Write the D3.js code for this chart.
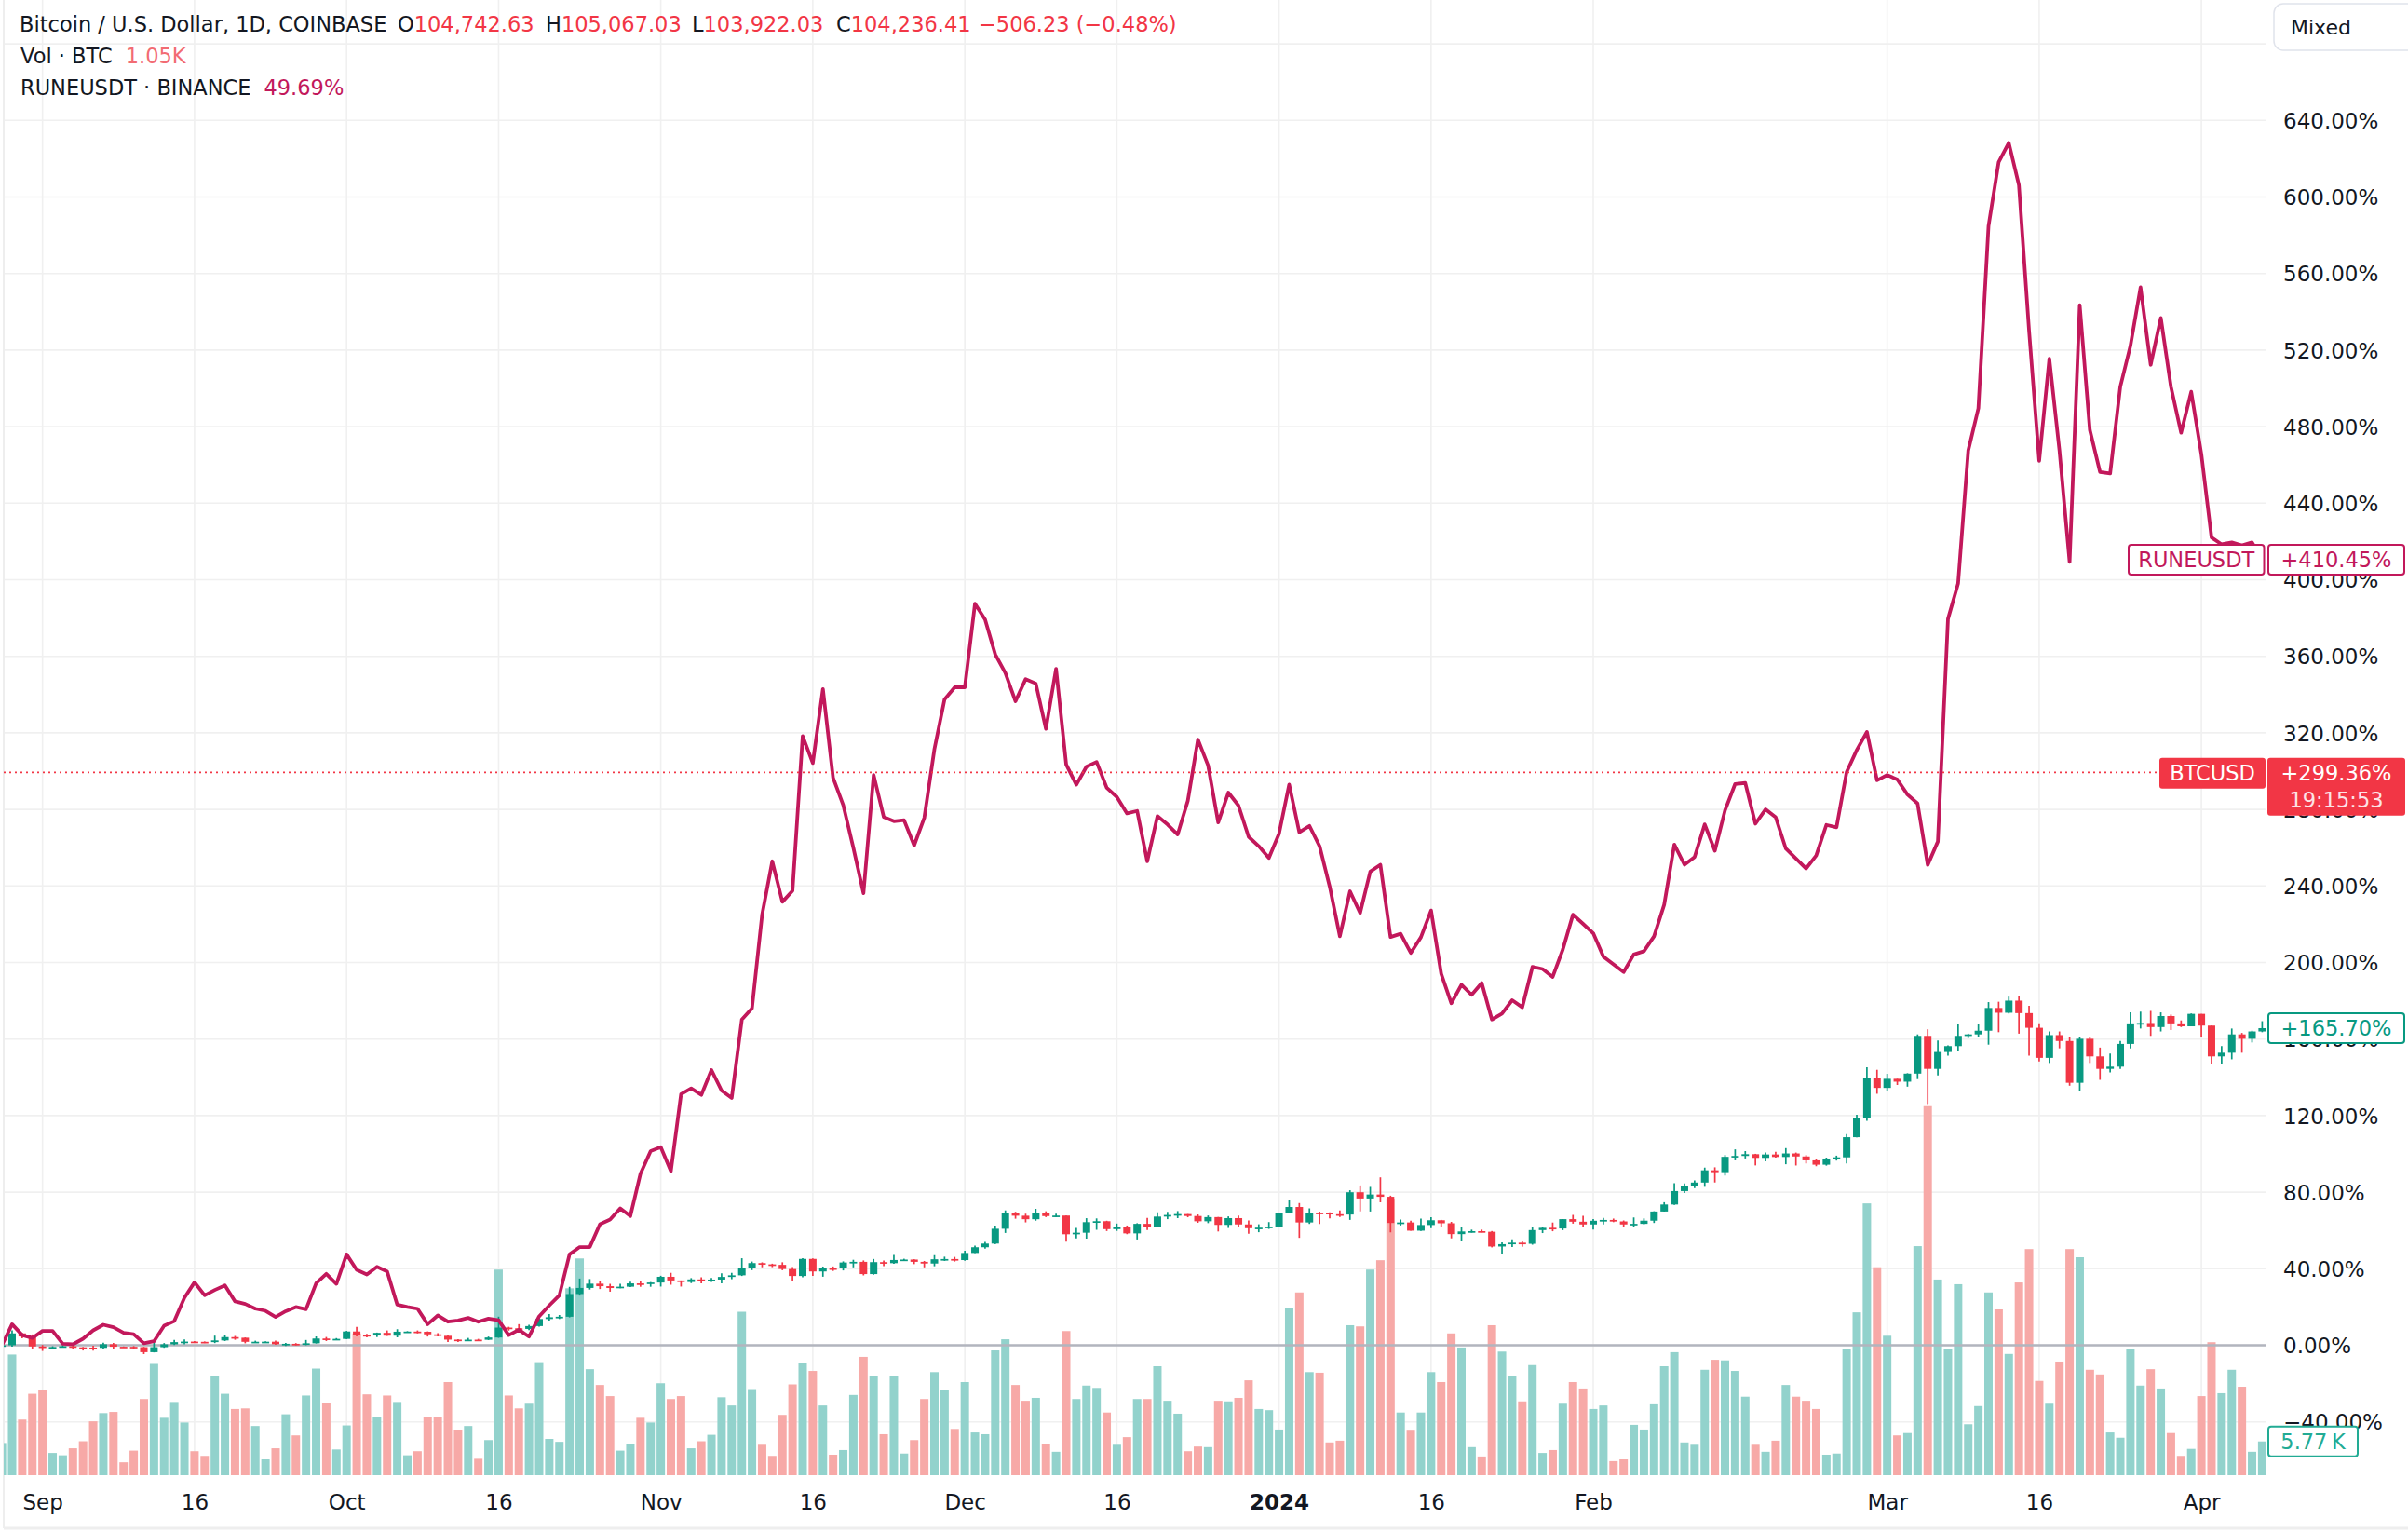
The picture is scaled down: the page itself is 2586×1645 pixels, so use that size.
<!DOCTYPE html>
<html><head><meta charset="utf-8">
<script src="https://cdn.jsdelivr.net/npm/d3@7"></script>
<style>
html,body{margin:0;padding:0;background:#fff;}
svg{display:block;font-family:"DejaVu Sans",sans-serif;}
</style></head><body>
<svg id="chart" width="2586" height="1645"></svg>
<script>
// ---------- DATA ----------
const firstDay = "2023-08-28";
const lastDay = "2024-04-07";

// BTCUSD daily (Coinbase), USD
const btcOpen = [
26090,26101,27720,27300,25940,25800,25870,25970,25820,25790,
25750,26240,25900,25890,25840,25160,25840,26230,26530,26600,
26570,26530,26760,27210,27130,26570,26580,26585,26250,26300,
26220,26370,27020,26910,26970,27980,27500,27430,27790,27410,
27950,27970,27940,27590,27390,26870,26760,26860,26850,27160,
28510,28420,28330,28720,29680,29920,29990,33090,33920,34500,
34160,33910,34090,34540,34500,34660,35440,34940,34730,35080,
35050,35060,35420,35640,36700,37310,37140,37070,36500,35550,
37880,36170,36600,36590,37390,37480,35810,37440,37300,37730,
37790,37480,37250,37830,37860,37720,38690,39470,39970,41990,
44080,43770,43290,44170,43720,43790,41240,41450,42890,43020,
41940,42260,41360,42660,42260,43650,43870,43990,43730,43010,
43580,42520,43440,42580,42070,42140,42280,44180,44960,42850,
44180,44160,43970,43930,46970,46120,46660,46350,42780,42850,
41730,42500,43150,42740,41260,41620,41660,41580,39570,39890,
40090,39940,41810,42120,42030,43300,42950,42580,43080,43190,
42990,42580,42660,43090,44340,45300,47130,47770,48290,49960,
49710,51800,51920,52160,51660,52120,51780,52260,51850,51320,
50730,51570,51730,54480,57080,62500,61200,62440,62050,63150,
68300,63800,66100,66900,68300,68500,69000,72100,71450,73100,
71400,69400,65300,68400,67600,61900,67900,65500,63800,64100,
67200,70000,70050,69500,71000,70000,69600,71300,69700,65500,
66000,68500,67900,68900];
const btcHigh = [
26230,28140,27760,27580,26140,25970,26120,26090,25870,26040,
26450,26420,25940,25990,25880,26540,26400,26820,26890,26670,
26620,27410,27490,27370,27160,26720,26640,26740,26430,26390,
26820,27310,27230,27080,28060,28600,27670,27830,28120,28290,
28020,28120,27990,27740,27480,26940,27100,26970,27290,30000,
28620,28980,28910,30210,30350,30230,34070,35200,35130,34830,
34480,34480,34770,34850,34720,35580,35980,34940,35260,35380,
35290,35900,35980,37970,37520,37410,37230,37420,36770,37980,
37940,36840,36850,37540,37760,37670,37870,37660,38430,37900,
37830,37600,38390,38180,38150,38990,39700,40200,42420,44490,
44300,44040,44710,44370,44040,43800,42090,43430,43400,43080,
42700,42430,42750,43480,44240,44290,44400,43990,43950,43800,
43600,43680,43800,43130,42600,42900,44190,45900,45500,44770,
44340,44240,44500,47240,47900,47700,49000,46500,43250,43080,
43390,43560,43200,42930,42200,41870,41870,41680,40140,40540,
40290,42200,42240,42840,43310,43880,43750,43300,43480,43380,
43120,43530,43400,44370,45610,48200,48170,48590,50330,50370,
52040,52820,52580,52210,52380,52480,52990,52380,52030,51550,
51690,51960,54910,57550,64000,63670,63120,62440,63200,68500,
69200,67650,67000,69900,68600,69980,72900,72950,73650,73780,
72400,70000,68900,68900,68100,68100,68200,66700,65900,67600,
71500,71600,71700,71500,71200,70400,71350,71300,69700,66900,
69300,68700,69000,70300];
const btcLow = [
25880,25910,27050,25660,25330,25720,25780,25600,25390,25360,
25620,25650,25810,25560,24900,25130,25760,26130,26230,26470,
26400,26400,26680,26850,26370,26480,26500,26150,25990,26090,
26110,26340,26680,26890,26940,27310,27170,27220,27370,27180,
27860,27720,27290,27300,26560,26540,26700,26810,26810,27120,
28100,28150,28180,28640,29480,29680,29900,32880,33700,33770,
33410,33880,34040,34080,34080,34110,34360,34110,34580,34540,
34740,34540,35110,35550,36350,36740,36760,36340,34940,35370,
35560,35450,36240,36310,36730,35630,35730,36900,37220,37630,
37170,36730,36880,37610,37520,37630,38660,39280,39900,41420,
43360,42860,43090,43580,43590,40220,40680,40640,41850,41680,
41700,41250,40530,41820,42210,43300,43440,43560,42800,42760,
41620,42100,42300,41300,41520,41970,42200,44180,40750,42650,
42630,43420,43610,43200,44360,44340,45600,41500,42440,41720,
41690,42060,42200,40680,40280,41460,41500,39450,38520,39490,
39540,39820,41400,41650,41800,42690,42300,41880,42580,42890,
42260,42260,42580,42780,44330,45240,46870,47550,47710,48300,
49250,51320,51580,50630,51180,51700,50790,50620,50900,50520,
50600,51290,50900,54450,56700,60400,60800,61600,61370,62400,
59000,62900,65600,66200,68000,68200,67100,68800,71350,68600,
65600,64800,64600,66600,61500,60800,64600,62300,63300,63800,
66600,69300,68300,68900,69100,69500,69600,68100,64500,64500,
65100,66000,67400,68800];
const btcClose = [
26101,27720,27300,25940,25800,25870,25970,25820,25790,25750,
26240,25900,25890,25840,25160,25840,26230,26530,26600,26570,
26530,26760,27210,27130,26570,26580,26585,26250,26300,26220,
26370,27020,26910,26970,27980,27500,27430,27790,27410,27950,
27970,27940,27590,27390,26870,26760,26860,26850,27160,28510,
28420,28330,28720,29680,29920,29990,33090,33920,34500,34160,
33910,34090,34540,34500,34660,35440,34940,34730,35080,35050,
35060,35420,35640,36700,37310,37140,37070,36500,35550,37880,
36170,36600,36590,37390,37480,35810,37440,37300,37730,37790,
37480,37250,37830,37860,37720,38690,39470,39970,41990,44080,
43770,43290,44170,43720,43790,41240,41450,42890,43020,41940,
42260,41360,42660,42260,43650,43870,43990,43730,43010,43580,
42520,43440,42580,42070,42140,42280,44180,44960,42850,44180,
44160,43970,43930,46970,46120,46660,46350,42780,42850,41730,
42500,43150,42740,41260,41620,41660,41580,39570,39890,40090,
39940,41810,42120,42030,43300,42950,42580,43080,43190,42990,
42580,42660,43090,44340,45300,47130,47770,48290,49960,49710,
51800,51920,52160,51660,52120,51780,52260,51850,51320,50730,
51570,51730,54480,57080,62500,61200,62440,62050,63150,68300,
63800,66100,66900,68300,68500,69000,72100,71450,73100,71400,
69400,65300,68400,67600,61900,67900,65500,63800,64100,67200,
70000,70050,69500,71000,70000,69600,71300,69700,65500,66000,
68500,67900,68900,69350];
// Volume (thousand BTC)
const btcVolumeK = [
5.5,20.6,9.5,13.9,14.5,3.8,3.4,4.6,5.8,9.2,
10.6,10.8,2.2,4.2,13.0,19.0,9.8,12.5,9.0,4.1,
3.3,17.0,13.9,11.3,11.4,8.4,2.7,4.6,10.4,6.8,
13.6,18.2,12.4,4.4,8.5,24.2,13.8,10.0,13.6,12.5,
3.4,4.1,10.0,10.0,15.9,7.7,8.4,2.8,6.0,35.1,
13.6,11.4,12.2,19.3,6.2,5.7,31.9,37.0,18.1,15.4,
13.5,4.2,5.4,9.8,9.0,15.7,13.0,13.5,4.6,5.8,
6.9,13.3,11.9,27.9,14.7,5.2,3.3,10.3,15.5,19.2,
17.8,11.9,3.5,4.3,13.7,20.2,17.0,7.0,17.0,3.7,
6.0,13.0,17.6,14.6,7.9,15.9,7.3,7.0,21.3,23.2,
15.4,12.7,13.2,5.4,4.0,24.6,13.0,15.3,14.9,10.7,
5.2,6.5,13.0,13.0,18.6,12.7,10.5,4.1,4.9,4.8,
12.7,12.6,13.2,16.2,11.3,11.1,7.8,28.5,31.2,17.6,
17.5,5.6,5.9,25.6,25.4,35.1,36.7,47.2,10.7,7.6,
10.7,17.6,15.9,24.2,21.8,4.8,3.2,25.6,21.1,16.9,
12.6,18.8,3.8,4.3,12.2,15.9,14.8,11.3,11.9,2.4,
2.7,8.6,7.8,12.1,18.6,21.0,5.6,5.2,18.0,19.7,
19.6,17.8,13.4,5.2,4.0,5.9,15.4,13.4,12.7,11.3,
3.5,3.7,21.6,27.8,46.4,35.5,23.8,6.8,7.2,39.1,
63.0,33.4,21.5,32.6,8.7,11.8,31.2,28.3,20.7,32.9,
38.6,16.1,12.2,19.4,38.6,37.2,18.0,17.2,7.3,6.4,
21.5,15.3,18.1,14.8,7.2,3.3,4.5,13.5,22.7,14.0,
18.0,15.1,4.0,5.77];
// RUNEUSDT change from first bar, %
const runeChangePct = [
0,11,5.3,3.8,7.5,7.5,0.8,0.5,3.4,7.8,
10.7,9.4,6.5,5.8,1.0,2.1,10.2,12.6,24.8,32.9,
26.1,28.9,31.3,22.9,21.6,19.1,18.0,14.8,17.8,20.0,
18.8,32.4,37.3,32.1,47.5,39.4,37.0,41.0,38.6,21.2,
20.0,19.1,11.0,15.6,12.3,13.0,14.3,12.3,13.9,13.1,
5.3,8.1,4.5,15.1,20.8,26.1,47.5,51.3,51.3,63.3,
65.7,71.5,67.5,89.7,101.5,103.5,91,131.2,134.2,130.8,
143.8,133.1,129.2,170.2,176.0,225.0,252.9,231.7,237.5,318.3,
304.2,342.9,296.5,282.3,260.0,236.2,298.0,276.0,273.8,274.4,
261.2,275.6,311.5,337.5,343.8,343.8,387.5,379.2,361.0,351.3,
336.5,348.1,345.8,322.1,353.5,303.5,292.9,302.3,304.8,291.3,
286.5,277.9,279.2,252.9,276.5,272.1,266.9,284.5,316.5,303.0,
273.2,288.8,282.0,265.7,260.8,254.6,267.3,293.0,268.1,271.4,
260.8,239.7,213.7,237.2,225.9,247.5,251.1,213.3,215.0,205.0,
213.2,227.2,194.1,178.7,188.4,183.1,189.3,170.2,173.3,180.3,
176.6,197.7,196.6,192.5,206.8,225.0,220.2,215.3,203.1,199.0,
195.0,204.2,205.9,213.7,230.2,261.6,251.1,255.1,272.2,258.4,
279.5,293.3,293.8,272.5,280.0,275.9,259.5,254.3,249.1,255.9,
271.9,270.6,299.5,311.0,320.5,295.2,298.0,295.6,287.8,283.1,
251.0,263.2,379.5,398.1,467.5,489.6,584.8,618.2,628.3,606.2,
530.2,462.1,515.5,467.5,409.3,543.5,478.2,456.3,455.5,500.8,
522.2,552.8,512.3,536.8,500.8,476.8,498.2,465.6,422.1,418.5,
419.5,418.0,419.5,410.45];

const priceTicks = [-40,0,40,80,120,160,200,240,280,320,360,400,440,480,520,560,600,640];
const gridLevels = [-40,0,40,80,120,160,200,240,280,320,360,400,440,480,520,560,600,640,680];
const timeTickDates = ["2023-09-01","2023-09-16","2023-10-01","2023-10-16","2023-11-01","2023-11-16","2023-12-01","2023-12-16","2024-01-01","2024-01-16","2024-02-01","2024-03-01","2024-03-16","2024-04-01"];
const timeTickLabels = ["Sep","16","Oct","16","Nov","16","Dec","16","2024","16","Feb","Mar","16","Apr"];

const legendTitle = "Bitcoin / U.S. Dollar, 1D, COINBASE";
const legendOHLC = [["O","104,742.63"],["H","105,067.03"],["L","103,922.03"],["C","104,236.41"]];
const legendChange = "\u2212506.23 (\u22120.48%)";
const volLegend = ["Vol \u00b7 BTC","1.05K"];
const runeLegend = ["RUNEUSDT \u00b7 BINANCE","49.69%"];
const btcLivePct = 299.36;
const btcCountdown = "19:15:53";
const runeLastLabel = 410.45;

// ---------- LAYOUT ----------
const svg = d3.select("#chart");
const plotL = 4, plotR = 2433, plotB = 1584;
const parse = d3.utcParse("%Y-%m-%d");
const dates = d3.utcDay.range(parse(firstDay), d3.utcDay.offset(parse(lastDay), 1));
const x = d3.scaleUtc().domain([parse(firstDay), parse(lastDay)]).range([2.1, 2429.4]);
const y = d3.scaleLinear().domain([0, 640]).range([1444.5, 129.3]);
const yVol = d3.scaleLinear().domain([0, 10]).range([plotB, plotB - 62.9]);
const base = btcClose[0];
const pct = v => (v / base - 1) * 100;

const UP = "#089981", DN = "#f23645";
const VUP = "#92d2cc", VDN = "#f7a9a7";
const RUNE = "#c2185b";
const TXT = "#131722";

svg.append("rect").attr("width", 2586).attr("height", 1645).attr("fill", "#fff");

const defs = svg.append("defs");
defs.append("clipPath").attr("id", "plotclip").append("rect")
  .attr("x", plotL).attr("y", 0).attr("width", plotR - plotL).attr("height", plotB);

// grid
const grid = svg.append("g");
grid.selectAll("line.h").data(gridLevels).join("line")
  .attr("x1", plotL).attr("x2", plotR)
  .attr("y1", d => y(d)).attr("y2", d => y(d))
  .attr("stroke", "#f0f0f0").attr("stroke-width", 1.6);
grid.selectAll("line.v").data(timeTickDates).join("line")
  .attr("x1", d => x(parse(d))).attr("x2", d => x(parse(d)))
  .attr("y1", 0).attr("y2", plotB)
  .attr("stroke", "#f0f0f0").attr("stroke-width", 1.6);

// borders
svg.append("line").attr("x1", 4).attr("x2", 4).attr("y1", 0).attr("y2", 1641)
  .attr("stroke", "#eeeeee").attr("stroke-width", 2);
svg.append("line").attr("x1", 4).attr("x2", 2586).attr("y1", 1641).attr("y2", 1641)
  .attr("stroke", "#eeeeee").attr("stroke-width", 3);

const plot = svg.append("g").attr("clip-path", "url(#plotclip)");
const idx = d3.range(dates.length);
const isUp = i => btcClose[i] >= btcOpen[i];

// volume
plot.append("g").selectAll("rect").data(idx).join("rect")
  .attr("x", i => x(dates[i]) - 4.5).attr("width", 9)
  .attr("y", i => yVol(btcVolumeK[i])).attr("height", i => plotB - yVol(btcVolumeK[i]))
  .attr("fill", i => isUp(i) ? VUP : VDN);

// zero line
plot.append("line").attr("x1", plotL).attr("x2", plotR).attr("y1", y(0)).attr("y2", y(0))
  .attr("stroke", "#b2b5be").attr("stroke-width", 2.5);

// candles
const cg = plot.append("g");
cg.selectAll("line").data(idx).join("line")
  .attr("x1", i => x(dates[i])).attr("x2", i => x(dates[i]))
  .attr("y1", i => y(pct(btcHigh[i]))).attr("y2", i => y(pct(btcLow[i])))
  .attr("stroke", i => isUp(i) ? UP : DN).attr("stroke-width", 1.7);
cg.selectAll("rect").data(idx).join("rect")
  .attr("x", i => x(dates[i]) - 4).attr("width", 8)
  .attr("y", i => y(pct(Math.max(btcOpen[i], btcClose[i]))))
  .attr("height", i => Math.max(1.7, y(pct(Math.min(btcOpen[i], btcClose[i]))) - y(pct(Math.max(btcOpen[i], btcClose[i])))))
  .attr("fill", i => isUp(i) ? UP : DN);

// RUNE line
plot.append("path").datum(idx)
  .attr("d", d3.line().x(i => x(dates[i])).y(i => y(runeChangePct[i])))
  .attr("fill", "none").attr("stroke", RUNE).attr("stroke-width", 3.8)
  .attr("stroke-linejoin", "round");

// BTC live dotted line
const yLive = y(btcLivePct);
svg.append("line").attr("x1", plotL).attr("x2", 2319).attr("y1", yLive).attr("y2", yLive)
  .attr("stroke", DN).attr("stroke-width", 1.7).attr("stroke-dasharray", "2 4");

// price axis
const yAxis = d3.axisRight(y).tickValues(priceTicks).tickSize(0).tickPadding(0)
  .tickFormat(d => (d < 0 ? "\u2212" : "") + Math.abs(d).toFixed(2) + "%");
const ya = svg.append("g").attr("transform", "translate(2452,0)").call(yAxis);
ya.select(".domain").remove();
ya.selectAll("text").attr("font-family", "DejaVu Sans").attr("font-size", 23)
  .attr("fill", TXT).attr("dy", "0.36em").attr("x", 0);

// time axis
const xAxis = d3.axisBottom(x).tickValues(timeTickDates.map(parse)).tickSize(0).tickPadding(0)
  .tickFormat((d, i) => timeTickLabels[i]);
const xa = svg.append("g").attr("transform", "translate(0,1613)").call(xAxis);
xa.select(".domain").remove();
xa.selectAll("text").attr("font-family", "DejaVu Sans").attr("font-size", 23)
  .attr("fill", TXT).attr("y", 0).attr("dy", "0.36em")
  .attr("font-weight", (d, i) => timeTickLabels[i] === "2024" ? "bold" : "normal");

// labels helper
function boxLabel(x0, yc, w, h, text, opt) {
  const g = svg.append("g");
  g.append("rect").attr("x", x0).attr("y", yc - h / 2).attr("width", w).attr("height", h)
    .attr("rx", 3).attr("fill", opt.fill).attr("stroke", opt.stroke || "none")
    .attr("stroke-width", opt.stroke ? 2 : 0);
  g.append("text").attr("x", x0 + w / 2).attr("y", yc).attr("dy", "0.36em")
    .attr("text-anchor", "middle").attr("font-size", 22.5).attr("fill", opt.color).text(text);
  return g;
}
// RUNE labels
const yRune = y(runeLastLabel);
boxLabel(2286, yRune, 145.5, 32, "RUNEUSDT", {fill: "#fff", stroke: RUNE, color: RUNE});
boxLabel(2436, yRune, 146, 32, "+" + runeLastLabel.toFixed(2) + "%", {fill: "#fff", stroke: RUNE, color: RUNE});
// BTC live labels
svg.append("rect").attr("x", 2319).attr("y", yLive - 15.5).attr("width", 114).attr("height", 33)
  .attr("rx", 3).attr("fill", DN);
svg.append("text").attr("x", 2376).attr("y", yLive + 1).attr("dy", "0.36em").attr("text-anchor", "middle")
  .attr("font-size", 22.5).attr("fill", "#fff").text("BTCUSD");
svg.append("rect").attr("x", 2435).attr("y", yLive - 15.5).attr("width", 148).attr("height", 62)
  .attr("rx", 3).attr("fill", DN);
svg.append("text").attr("x", 2509).attr("y", yLive + 1).attr("dy", "0.36em").attr("text-anchor", "middle")
  .attr("font-size", 22.5).attr("fill", "#fff").text("+" + btcLivePct.toFixed(2) + "%");
svg.append("text").attr("x", 2509).attr("y", yLive + 30).attr("dy", "0.36em").attr("text-anchor", "middle")
  .attr("font-size", 22.5).attr("fill", "#fde3e5").text(btcCountdown);
// BTC last close label
const lastI = dates.length - 1;
const lastPct = pct(btcClose[lastI]);
boxLabel(2436, y(lastPct), 146, 32, "+" + lastPct.toFixed(2) + "%", {fill: "#fff", stroke: UP, color: UP});
// Volume label
const lastVol = btcVolumeK[lastI];
boxLabel(2436, yVol(lastVol), 96, 32, lastVol.toFixed(2) + "\u2009K", {fill: "#fff", stroke: "#22ab94", color: "#22ab94"});

// Mixed button
svg.append("rect").attr("x", 2442).attr("y", 4).attr("width", 170).attr("height", 50)
  .attr("rx", 10).attr("fill", "#fff").attr("stroke", "#e0e3eb").attr("stroke-width", 1.5);
svg.append("text").attr("x", 2460).attr("y", 29).attr("dy", "0.36em")
  .attr("font-size", 22).attr("fill", TXT).text("Mixed");

// legend
const lg = svg.append("g").attr("font-size", 22.5);
lg.append("text").attr("x", 21).attr("y", 26).attr("dy", "0.36em").attr("fill", TXT).text(legendTitle);
const ohlcX = [427, 586, 743, 898];
legendOHLC.forEach(([k, v], j) => {
  const t = lg.append("text").attr("x", ohlcX[j]).attr("y", 26).attr("dy", "0.36em").attr("fill", TXT);
  t.append("tspan").text(k);
  t.append("tspan").attr("fill", DN).text(v);
});
lg.append("text").attr("x", 1051).attr("y", 26).attr("dy", "0.36em").attr("fill", DN).text(legendChange);
const l2 = lg.append("text").attr("x", 22).attr("y", 60).attr("dy", "0.36em").attr("fill", TXT);
l2.append("tspan").text(volLegend[0]);
l2.append("tspan").attr("dx", 14).attr("fill", "#f26b73").text(volLegend[1]);
const l3 = lg.append("text").attr("x", 22).attr("y", 94).attr("dy", "0.36em").attr("fill", TXT);
l3.append("tspan").text(runeLegend[0]);
l3.append("tspan").attr("dx", 14).attr("fill", RUNE).text(runeLegend[1]);
</script>
</body></html>
